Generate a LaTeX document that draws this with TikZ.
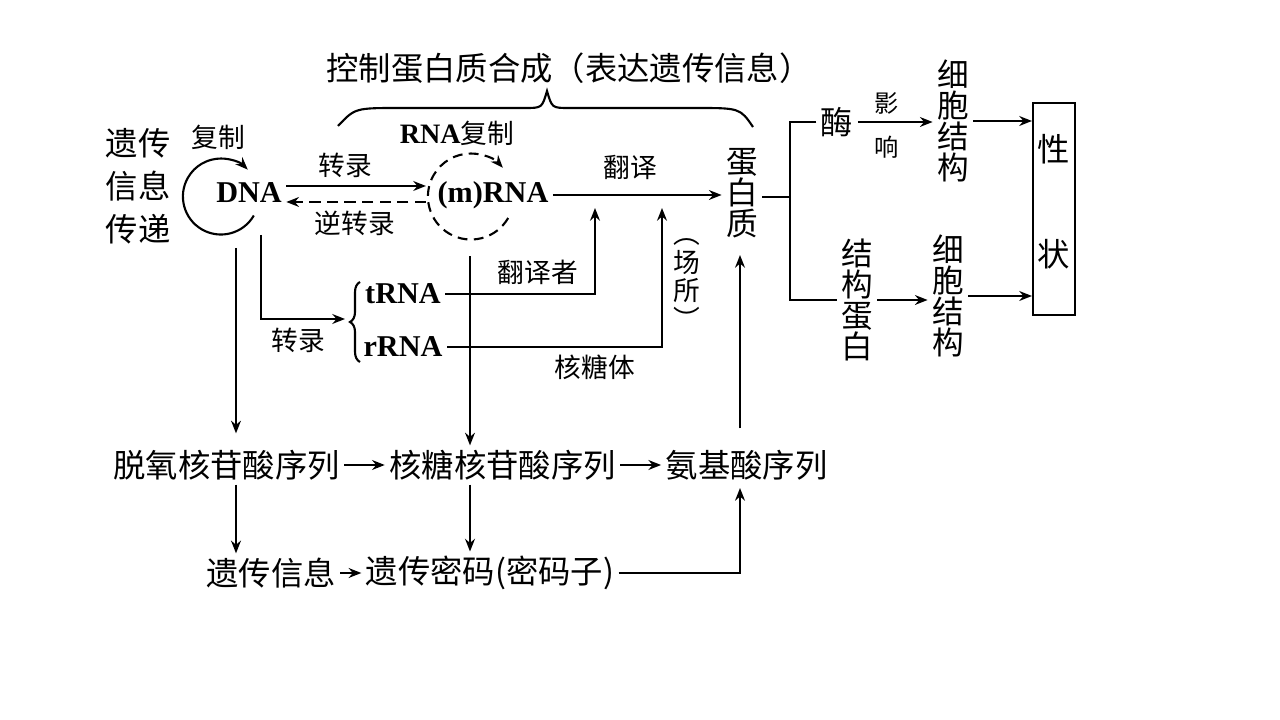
\documentclass[tikz,border=0pt]{standalone}
\usepackage{fontspec}
\newfontfamily\cjk{Noto Sans CJK SC}
\newfontfamily\latinfont{Liberation Serif}
\usepackage{tikz}
\usetikzlibrary{arrows.meta}
\usetikzlibrary{decorations.pathreplacing}
\tikzset{
	bigtext/.style={font=\cjk\fontsize{9.2}{11}\selectfont,inner sep=1pt},
	smalltext/.style={font=\cjk\fontsize{7.6}{9}\selectfont,inner sep=1pt},
	tinytext/.style={font=\cjk\fontsize{6.9}{8}\selectfont,inner sep=1pt},
	latin/.style={font=\latinfont\bfseries\fontsize{8.6}{10}\selectfont,inner sep=1pt},
	column/.style={font=\cjk\fontsize{9}{8.8}\selectfont,align=center,inner sep=1pt},
}

\begin{document}
\begin{tikzpicture}[>={Stealth[length=3.6pt,width=2.8pt]},line width=0.6pt]
	\useasboundingbox (0,0) rectangle (12.8,-7.2);
	\node[bigtext] (title) at (5.69,-0.68) {控制蛋白质合成（表达遗传信息）};
	\draw (3.38,-1.26) .. controls (3.55,-1.08) .. (4.00,-1.08) -- (5.25,-1.08) .. controls (5.42,-1.08) .. (5.47,-0.91) .. controls (5.52,-1.08) .. (5.69,-1.08) -- (6.95,-1.08) .. controls (7.40,-1.08) .. (7.53,-1.27);
	\node[bigtext,align=center,font=\cjk\fontsize{9.2}{12.2}\selectfont] (transfer) at (1.38,-1.86) {遗传\\信息\\传递};
	\node[smalltext] (repl) at (2.18,-1.37) {复制};
	\node[circle,minimum size=0.76cm,inner sep=0pt] (dring) at (2.20,-1.96) {};
	\node[latin] (dna) at (2.49,-1.93) {DNA};
	\draw[->] (dring.-30) arc[start angle=-30,end angle=-315,radius=0.38cm];
	\node[circle,minimum size=0.86cm,inner sep=0pt] (mring) at (4.70,-1.96) {};
	\draw[->,dash pattern=on 2.8pt off 1.8pt] (mring.-30) arc[start angle=-30,end angle=-318,radius=0.43cm];
	\node[latin] (mrna) at (4.93,-1.95) {(m)RNA};
	\node[smalltext] (rnarepl) at (4.57,-1.33) {{\latinfont\bfseries\fontsize{8}{9}\selectfont RNA}复制};
	\draw[->] ([yshift=0.07cm]dna.east) -- ([yshift=0.07cm]dna.east -| mring.west);
	\draw[->,dash pattern=on 3.2pt off 1.8pt] ([yshift=-0.09cm]dna.east -| mring.west) -- ([yshift=-0.09cm]dna.east);
	\node[smalltext] (tr1) at (3.45,-1.65) {转录};
	\node[smalltext] (revtr) at (3.55,-2.23) {逆转录};
	\node[column] (protein) at (7.42,-1.93) {蛋\\白\\质};
	\draw[->] (mrna.east) -- (mrna.east -| protein.west);
	\node[smalltext] (transl) at (6.30,-1.67) {翻译};
	\coordinate (fork) at (7.90,-1.97);
	\node[bigtext] (enzyme) at (8.37,-1.22) {酶};
	\node[column] (structp) at (8.57,-3.00) {结\\构\\蛋\\白};
	\draw (protein.east |- fork) -- (fork);
	\draw (enzyme.west) -| (fork) |- (structp.west);
	\node[tinytext] (ying) at (8.87,-1.03) {影};
	\node[tinytext] (xiang) at (8.87,-1.47) {响};
	\node[column] (cell1) at (9.53,-1.21) {细\\胞\\结\\构};
	\node[column] (cell2) at (9.48,-2.96) {细\\胞\\结\\构};
	\node[draw,align=center,font=\cjk\fontsize{9.2}{29.9}\selectfont,inner sep=1pt,text depth=5pt,minimum width=0.42cm,minimum height=2.12cm] (trait) at (10.54,-2.09) {性\\状};
	\draw[->] (enzyme.east) -- (enzyme.east -| cell1.west);
	\draw[->] (cell1.east) -- (cell1.east -| trait.west);
	\draw[->] (structp.east) -- (structp.east -| cell2.west);
	\draw[->] (cell2.east) -- (cell2.east -| trait.west);
	\coordinate (dnaturn) at (2.61,-2.35);
	\coordinate (brtip) at (3.45,-3.19);
	\draw[->] (dnaturn) |- (brtip);
	\node[smalltext] (tr2) at (2.98,-3.40) {转录};
	\draw[decorate,decoration={brace,amplitude=0.1cm}] (3.60,-3.62) -- (3.60,-2.82);
	\node[latin] (trna) at (4.03,-2.94) {tRNA};
	\node[latin] (rrna) at (4.03,-3.47) {rRNA};
	\coordinate (tstop) at (5.95,-2.08);
	\coordinate (rstop) at (6.62,-2.08);
	\draw[->] (trna.east) -| (tstop);
	\draw[->] (rrna.east) -| (rstop);
	\node[smalltext] (translator) at (5.38,-2.72) {翻译者};
	\node[smalltext] (ribosome) at (5.95,-3.67) {核糖体};
	\node[align=center,font=\cjk\fontsize{7.6}{8.2}\selectfont,inner sep=1pt] (site) at (6.87,-2.84) {︵\\场\\所\\︶};
	\node[bigtext] (seq1) at (2.265,-4.65) {脱氧核苷酸序列};
	\node[bigtext] (seq2) at (5.025,-4.65) {核糖核苷酸序列};
	\node[bigtext] (seq3) at (7.465,-4.65) {氨基酸序列};
	\node[bigtext] (info) at (2.71,-5.73) {遗传信息};
	\node[bigtext] (code) at (4.90,-5.73) {遗传密码(密码子)};
	\draw[->] (seq1) -- (seq2);
	\draw[->] (seq2) -- (seq3);
	\draw[->] (info) -- (code);
	\coordinate (dnadown) at (2.36,-2.48);
	\draw[->,shorten >=0.12cm] (dnadown) -- (dnadown |- seq1.north);
	\draw[->] ([yshift=-0.16cm]mring.south) -- (mring.south |- seq2.north);
	\draw[->] (seq1.south -| dnadown) -- (info.north -| dnadown);
	\draw[->] (seq2.south -| mring) -- (code.north -| mring);
	\coordinate (aatop) at (7.40,-2.55);
	\coordinate (aabottom) at (7.40,-4.88);
	\draw[->] (seq3.north -| aatop) ++(0,0.17) -- (aatop);
	\draw[->] (code.east) -| (aabottom);
\end{tikzpicture}
\end{document}
